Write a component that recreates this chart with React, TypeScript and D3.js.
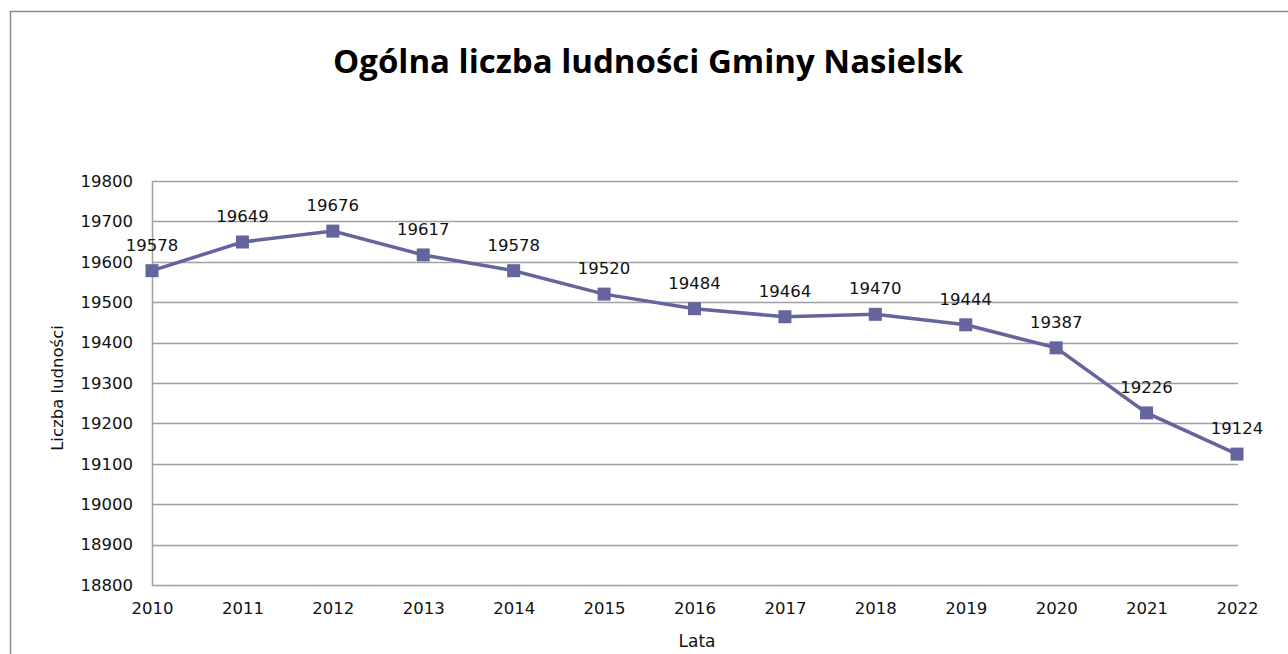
import React, { useEffect, useRef } from 'react';
import * as d3 from 'd3';

const years = [2010, 2011, 2012, 2013, 2014, 2015, 2016, 2017, 2018, 2019, 2020, 2021, 2022];
const population = [19578, 19649, 19676, 19617, 19578, 19520, 19484, 19464, 19470, 19444, 19387, 19226, 19124];
const yTicks = [18800, 18900, 19000, 19100, 19200, 19300, 19400, 19500, 19600, 19700, 19800];

const W = 1288;
const H = 654;

const App = () => {
  const svgRef = useRef<SVGSVGElement>(null);

  useEffect(() => {
    const svg = d3.select(svgRef.current);
    svg.selectAll('*').remove(); // start clean

    const margin = { top: 181, right: 51, bottom: 69, left: 152 };
    const width = W - margin.left - margin.right;
    const height = H - margin.top - margin.bottom;
    const font = '"DejaVu Sans", Verdana, sans-serif';
    const lineColor = '#65659d';

    // outer chart frame, runs off the right and bottom of the picture
    svg.append('rect')
      .attr('x', 10.5)
      .attr('y', 11.5)
      .attr('width', W + 20)
      .attr('height', H + 20)
      .attr('fill', '#fff')
      .attr('stroke', '#8c8c8c')
      .attr('stroke-width', 1.5);

    svg.append('text')
      .attr('x', 648)
      .attr('y', 73)
      .attr('text-anchor', 'middle')
      .style('font-family', '"Open Sans", Lato, sans-serif')
      .style('font-weight', 'bold')
      .style('font-size', '33px')
      .attr('fill', '#000')
      .text('Ogólna liczba ludności Gminy Nasielsk');

    const g = svg.append('g').attr('transform', `translate(${margin.left},${margin.top})`);

    const x = d3.scaleLinear().domain([2010, 2022]).range([0, width]);
    const y = d3.scaleLinear().domain([18800, 19800]).range([height, 0]);

    // horizontal gridlines
    g.append('g')
      .selectAll('line')
      .data(yTicks)
      .enter()
      .append('line')
      .attr('x1', 0)
      .attr('x2', width + 1)
      .attr('y1', (d) => Math.round(y(d)) + 0.5)
      .attr('y2', (d) => Math.round(y(d)) + 0.5)
      .attr('stroke', '#a0a0a0')
      .attr('stroke-width', 1.5);

    // left axis line
    g.append('line')
      .attr('x1', 0.5)
      .attr('x2', 0.5)
      .attr('y1', 0)
      .attr('y2', height + 1)
      .attr('stroke', '#a0a0a0')
      .attr('stroke-width', 1.5);

    // y tick labels
    g.append('g')
      .call(d3.axisLeft(y).tickValues(yTicks).tickSize(0).tickPadding(19).tickFormat(d3.format('d')))
      .call((a) => a.select('.domain').remove())
      .call((a) =>
        a.selectAll('text')
          .style('font-family', font)
          .style('font-size', '16.5px')
          .attr('fill', '#111')
      );

    // x tick labels
    g.append('g')
      .attr('transform', `translate(0,${height})`)
      .call(d3.axisBottom(x).tickValues(years).tickSize(0).tickPadding(17).tickFormat(d3.format('d')))
      .call((a) => a.select('.domain').remove())
      .call((a) =>
        a.selectAll('text')
          .style('font-family', font)
          .style('font-size', '16.5px')
          .attr('fill', '#111')
      );

    // axis titles
    svg.append('text')
      .attr('transform', `translate(63,388) rotate(-90)`)
      .attr('text-anchor', 'middle')
      .style('font-family', font)
      .style('font-size', '16.5px')
      .attr('fill', '#111')
      .text('Liczba ludności');

    svg.append('text')
      .attr('x', 697)
      .attr('y', 647)
      .attr('text-anchor', 'middle')
      .style('font-family', font)
      .style('font-size', '17px')
      .attr('fill', '#111')
      .text('Lata');

    const pts = years.map((yr, i) => ({ yr, v: population[i] }));

    const line = d3.line<{ yr: number; v: number }>()
      .x((d) => x(d.yr))
      .y((d) => y(d.v));

    g.append('path')
      .datum(pts)
      .attr('d', line)
      .attr('fill', 'none')
      .attr('stroke', lineColor)
      .attr('stroke-width', 3.5);

    g.selectAll('.marker')
      .data(pts)
      .enter()
      .append('rect')
      .attr('class', 'marker')
      .attr('x', (d) => x(d.yr) - 6.5)
      .attr('y', (d) => y(d.v) - 6.5)
      .attr('width', 13)
      .attr('height', 13)
      .attr('fill', lineColor);

    // data labels above each point
    g.selectAll('.label')
      .data(pts)
      .enter()
      .append('text')
      .attr('class', 'label')
      .attr('x', (d) => x(d.yr))
      .attr('y', (d) => y(d.v) - 20)
      .attr('text-anchor', 'middle')
      .style('font-family', font)
      .style('font-size', '16.5px')
      .attr('fill', '#111')
      .text((d) => d.v);
  }, []);

  return <svg ref={svgRef} width={W} height={H} style={{ display: 'block', position: 'absolute', left: 0, top: 0 }}></svg>;
};

export default App;
